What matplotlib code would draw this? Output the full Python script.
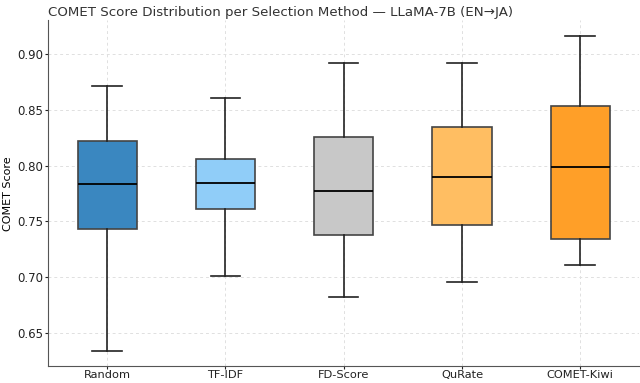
import matplotlib
matplotlib.use("Agg")
import matplotlib.pyplot as plt

# valeurs
methods = ["Random", "TF-IDF", "FD-Score", "QuRate", "COMET-Kiwi"]
whislo = [0.634, 0.7015, 0.6824, 0.6955, 0.711]
q1 = [0.743, 0.761, 0.738, 0.7467, 0.734]
med = [0.7837, 0.784, 0.7774, 0.7899, 0.7991]
q3 = [0.8223, 0.806, 0.826, 0.8345, 0.8533]
whishi = [0.871, 0.8604, 0.8917, 0.8917, 0.9163]
colors = ["#3a87c0", "#90cdf8", "#c8c8c8", "#ffbe62", "#ff9f28"]

stats = []
for i in range(len(methods)):
    stats.append(dict(label=methods[i], whislo=whislo[i], q1=q1[i], med=med[i],
                      q3=q3[i], whishi=whishi[i], fliers=[]))

fig, ax = plt.subplots(figsize=(6.4, 3.83), dpi=100)
bp = ax.bxp(stats, widths=0.5, patch_artist=True, showfliers=False,
            boxprops=dict(edgecolor="#444444", linewidth=1.2),
            medianprops=dict(color="black", linewidth=1.3),
            whiskerprops=dict(color="#222222", linewidth=1.2),
            capprops=dict(color="#222222", linewidth=1.2))
for patch, c in zip(bp["boxes"], colors):
    patch.set_facecolor(c)

ax.set_xlim(0.5, 5.5)
ax.set_ylim(0.6205, 0.930)
ax.set_yticks([0.65, 0.70, 0.75, 0.80, 0.85, 0.90])
ax.grid(True, linestyle=(0, (3, 3)), color="#e0e0e0", linewidth=0.7)
ax.set_axisbelow(True)
for s in ["top", "right"]:
    ax.spines[s].set_visible(False)
for s in ["left", "bottom"]:
    ax.spines[s].set_color("#555555")
ax.tick_params(labelsize=8.5, colors="#222222", length=2, pad=1.5)
ax.tick_params(axis="x", labelsize=8.2, pad=1)
ax.set_ylabel("COMET Score", fontsize=8, labelpad=3)

# titre decale vers la gauche comme l'original
fig.text(0.4375, 0.968, "COMET Score Distribution per Selection Method \u2014 LLaMA-7B (EN\u2192JA)",
         fontsize=9.6, color="#333333", ha="center", va="center")

plt.subplots_adjust(left=0.075, right=0.999, bottom=0.044, top=0.947)
plt.savefig("out.png")
